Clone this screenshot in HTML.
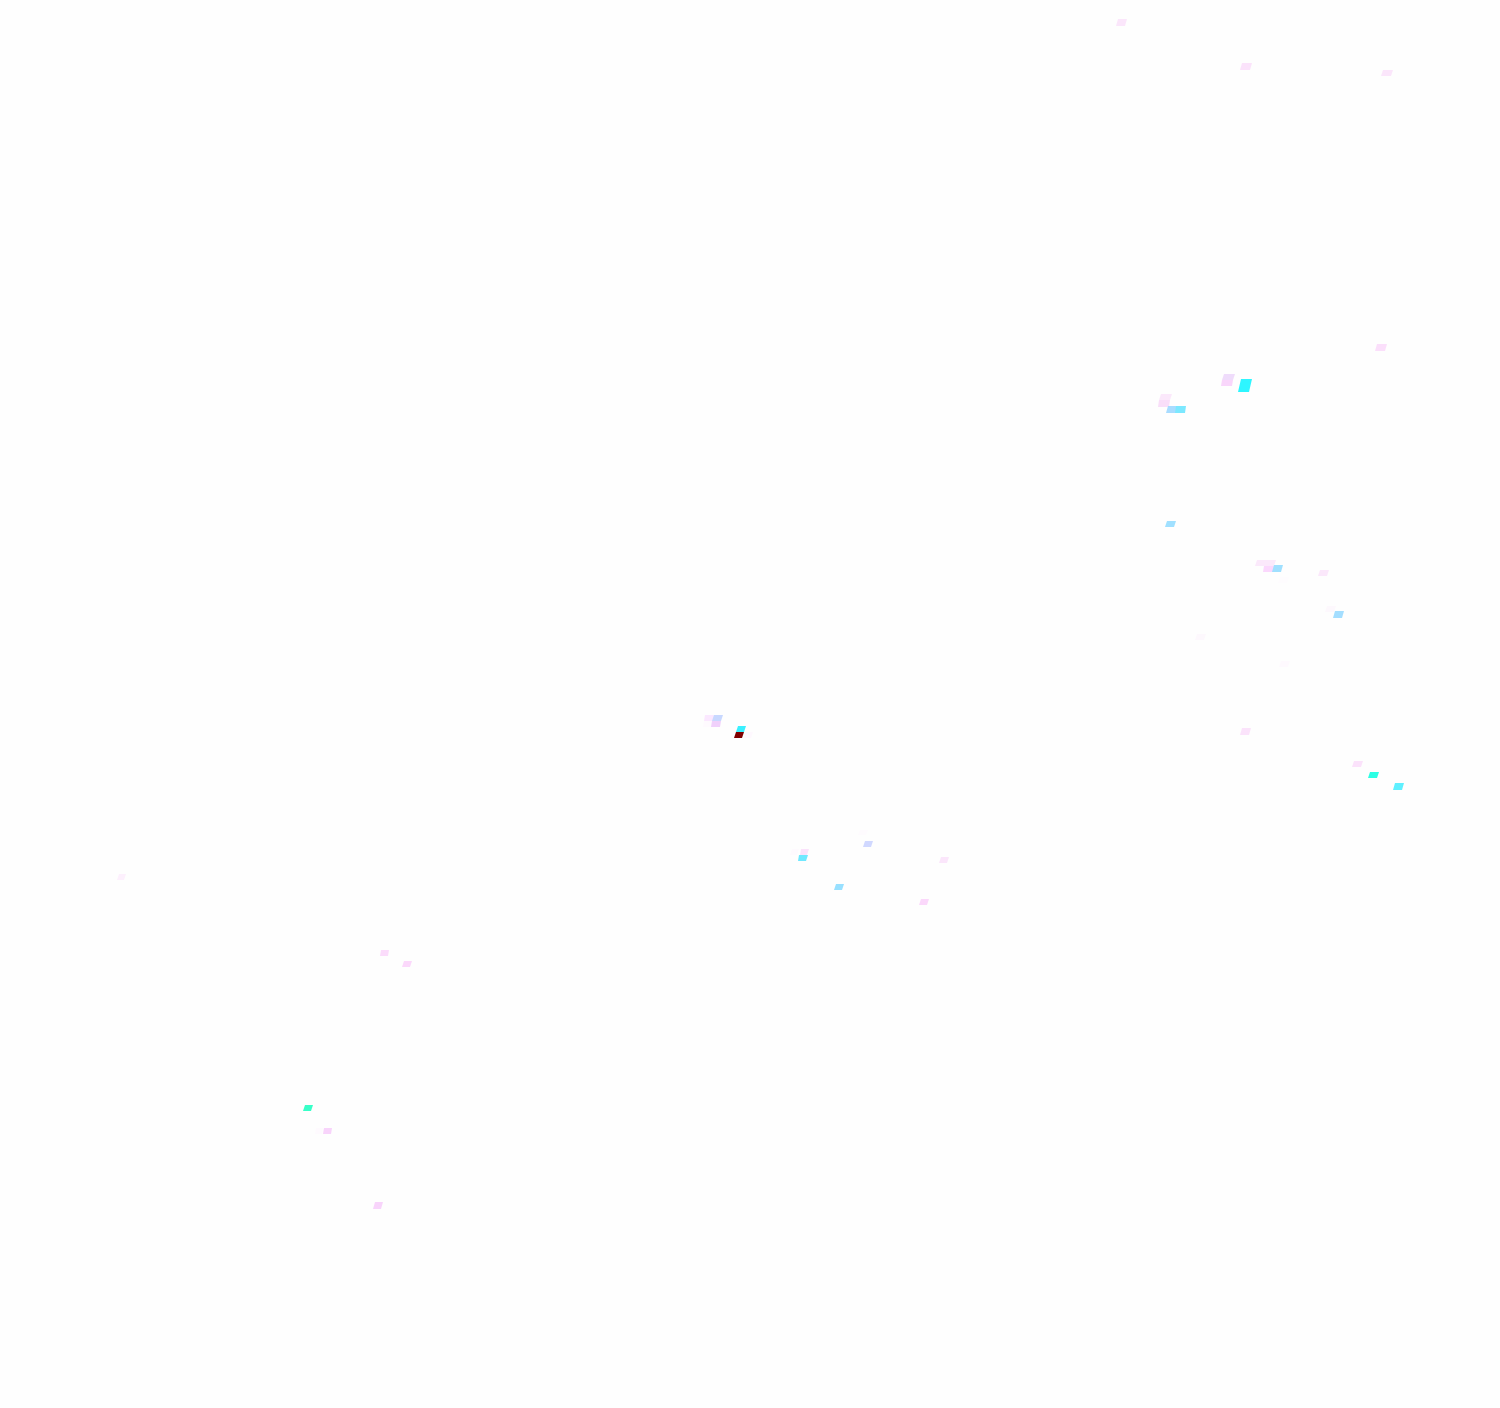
<!DOCTYPE html>
<html lang="en">
<head>
<meta charset="utf-8">
<title>Diagram</title>
<style>
html,body{margin:0;padding:0;background:#fff;}
body{width:1500px;height:1408px;overflow:hidden;}
svg{display:block;}
</style>
</head>
<body>
<svg xmlns="http://www.w3.org/2000/svg" width="1500" height="1408" viewBox="0 0 1500 1408">
<rect width="1500" height="1408" fill="#fefefe"/>
<polygon fill="#fbe6fb" points="1118,19 1127,19 1125,26 1116,26"/>
<polygon fill="#fbe3fb" points="1242,63 1252,63 1250,70 1240,70"/>
<polygon fill="#fbe6fb" points="1383,70 1393,70 1391,76 1381,76"/>
<polygon fill="#fbdffb" points="1377,344 1387,344 1385,351 1375,351"/>
<polygon fill="#efdcfb" points="1224,374 1235,374 1233,380 1222,380"/>
<polygon fill="#f9d6fb" points="1222,380 1233,380 1232,386 1221,386"/>
<polygon fill="#2ef6ff" points="1241,379 1252,379 1249,392 1238,392"/>
<polygon fill="#fbe8fb" points="1161,394 1172,394 1170,400 1159,400"/>
<polygon fill="#f9def9" points="1159,400 1170,400 1169,407 1158,407"/>
<polygon fill="#a8dcff" points="1168,406 1177,406 1176,413 1166,413"/>
<polygon fill="#7ce8ff" points="1176,406 1186,406 1185,413 1175,413"/>
<polygon fill="#a0e0ff" points="1167,521 1176,521 1174,527 1165,527"/>
<polygon fill="#fbe9fb" points="1257,560 1276,560 1274,566 1255,566"/>
<polygon fill="#fbd8fd" points="1264,566 1274,566 1273,572 1263,572"/>
<polygon fill="#a0e0ff" points="1274,565 1283,565 1281,572 1272,572"/>
<polygon fill="#fbe8fb" points="1320,570 1329,570 1327,576 1318,576"/>
<polygon fill="#fefcfe" points="1280,577 1289,577 1287,583 1278,583"/>
<polygon fill="#fdf8fd" points="1327,606 1336,606 1334,612 1325,612"/>
<polygon fill="#a4deff" points="1335,611 1344,611 1342,618 1333,618"/>
<polygon fill="#fdf8fd" points="1197,634 1206,634 1204,640 1195,640"/>
<polygon fill="#fef9fe" points="1281,661 1290,661 1288,667 1279,667"/>
<polygon fill="#fbe3fb" points="1242,728 1251,728 1249,735 1240,735"/>
<polygon fill="#fbe2fb" points="1354,761 1363,761 1361,767 1352,767"/>
<polygon fill="#2cffe4" points="1370,772 1379,772 1377,778 1368,778"/>
<polygon fill="#5ff0ff" points="1395,783 1404,783 1402,790 1393,790"/>
<polygon fill="#fbe8ff" points="705,715 714,715 713,721 704,721"/>
<polygon fill="#c8d8ff" points="714,715 723,715 721,721 712,721"/>
<polygon fill="#fefafe" points="704,721 712,721 711,727 703,727"/>
<polygon fill="#f0d0fb" points="712,721 721,721 720,727 711,727"/>
<polygon fill="#3af0ff" points="738,726 746,726 744,732 736,732"/>
<polygon fill="#800000" points="736,732 744,732 742,738 734,738"/>
<polygon fill="#fef8fe" points="745,732 753,732 751,738 744,738"/>
<polygon fill="#fefafe" points="792,849 799,849 797,855 790,855"/>
<polygon fill="#fbe2fb" points="801,849 809,849 807,855 800,855"/>
<polygon fill="#70e8ff" points="799,855 808,855 806,861 798,861"/>
<polygon fill="#fefbfe" points="860,830 868,830 866,835 858,835"/>
<polygon fill="#d0d8ff" points="865,841 873,841 871,847 863,847"/>
<polygon fill="#fbe6fb" points="941,857 949,857 947,863 939,863"/>
<polygon fill="#98e0ff" points="836,884 844,884 842,890 834,890"/>
<polygon fill="#fbd8fb" points="921,899 929,899 927,905 919,905"/>
<polygon fill="#fdf0fd" points="119,874 126,874 124,880 117,880"/>
<polygon fill="#fbdcfb" points="381,950 389,950 388,956 380,956"/>
<polygon fill="#fbd8fb" points="404,961 412,961 410,967 402,967"/>
<polygon fill="#38ffc8" points="305,1105 313,1105 311,1111 303,1111"/>
<polygon fill="#fefafe" points="316,1128 323,1128 322,1134 315,1134"/>
<polygon fill="#f8d4fb" points="324,1128 332,1128 331,1134 323,1134"/>
<polygon fill="#f8d4fb" points="375,1202 383,1202 381,1209 373,1209"/>
</svg>
</body>
</html>
